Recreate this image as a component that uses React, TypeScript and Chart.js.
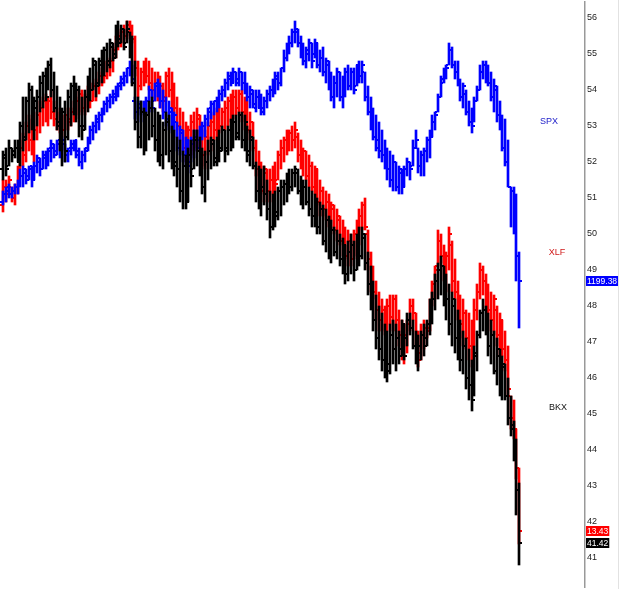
import React, { useEffect, useRef } from 'react';
import { Chart, registerables } from 'chart.js';

Chart.register(...registerables);

// ---- SPX (scaled onto the BKX axis) ----
const spxHigh = [
  51.2, 51.3, 51.4, 51.3, 51.4, 51.5, 51.8, 51.9, 51.8, 51.9,
  51.9, 52.0, 52.2, 52.1, 52.3, 52.3, 52.4, 52.6, 52.5, 52.6,
  52.6, 52.7, 52.5, 52.4, 52.6, 52.6, 52.6, 52.4, 52.3, 52.4,
  52.7, 53.0, 53.1, 53.3, 53.4, 53.5, 53.7, 53.8, 53.9, 54.0,
  54.1, 54.2, 54.4, 54.5, 54.6, 54.8, 54.7, 53.8, 53.7, 53.7,
  53.7, 53.8, 54.1, 54.0, 54.2, 54.3, 54.2, 54.0, 53.8, 53.7,
  53.5, 53.4, 53.1, 53.0, 52.9, 52.7, 52.6, 52.7, 52.9, 52.9,
  53.0, 53.1, 53.3, 53.5, 53.7, 53.7, 53.8, 54.0, 54.1, 54.3,
  54.5, 54.5, 54.6, 54.5, 54.6, 54.5, 54.5, 54.2, 54.1, 54.0,
  54.0, 54.0, 53.9, 53.8, 54.0, 54.1, 54.3, 54.5, 54.5, 54.6,
  55.1, 55.3, 55.5, 55.7, 55.9, 55.7, 55.5, 55.3, 55.2, 55.4,
  55.3, 55.4, 55.3, 55.1, 55.2, 54.9, 54.8, 54.5, 54.4, 54.6,
  54.5, 54.4, 54.6, 54.7, 54.6, 54.6, 54.7, 54.8, 54.8, 54.5,
  54.1, 53.8, 53.5, 53.3, 53.1, 52.9, 52.6, 52.4, 52.3, 52.2,
  52.0, 51.9, 51.8, 51.9, 52.1, 52.0, 52.6, 52.9, 52.4, 52.3,
  52.4, 52.7, 52.9, 53.3, 53.4, 53.9, 54.4, 54.6, 54.7, 55.3,
  55.2, 54.8, 54.8, 54.3, 54.2, 54.0, 53.7, 53.5, 53.8, 54.1,
  54.7, 54.8, 54.8, 54.7, 54.5, 54.3, 54.1, 53.7, 53.3, 53.2,
  52.6, 51.3, 51.3, 51.1, 49.5,
];
const spxLow = [
  50.8, 50.9, 51.0, 51.0, 51.1, 51.1, 51.3, 51.3, 51.4, 51.5,
  51.3, 51.5, 51.7, 51.6, 51.8, 51.8, 51.9, 52.0, 52.1, 52.2,
  52.1, 52.3, 52.0, 52.0, 52.2, 52.3, 52.1, 51.9, 51.8, 52.0,
  52.3, 52.5, 52.6, 52.8, 52.9, 53.1, 53.3, 53.4, 53.5, 53.6,
  53.7, 53.8, 54.0, 54.1, 54.2, 54.4, 54.2, 53.2, 53.1, 53.3,
  53.1, 53.3, 53.4, 53.4, 53.7, 53.8, 53.5, 53.2, 53.0, 52.9,
  52.8, 52.7, 52.3, 52.2, 52.0, 51.9, 51.7, 52.0, 52.1, 52.3,
  52.4, 52.6, 52.7, 53.0, 53.2, 53.3, 53.4, 53.5, 53.7, 53.8,
  54.0, 54.1, 54.2, 54.1, 54.1, 54.0, 53.9, 53.7, 53.5, 53.5,
  53.4, 53.5, 53.3, 53.3, 53.5, 53.7, 53.8, 53.9, 54.0, 54.1,
  54.5, 54.8, 55.0, 55.2, 55.3, 55.2, 54.9, 54.7, 54.6, 54.8,
  54.6, 54.9, 54.6, 54.5, 54.4, 54.2, 54.0, 53.7, 53.5, 53.8,
  53.7, 53.5, 53.8, 54.0, 54.0, 53.9, 54.1, 54.2, 54.2, 53.7,
  53.3, 52.9, 52.6, 52.3, 52.1, 52.0, 51.8, 51.5, 51.3, 51.2,
  51.2, 51.1, 51.1, 51.3, 51.6, 51.5, 51.9, 52.4, 51.7, 51.6,
  51.6, 52.0, 52.1, 52.7, 52.9, 53.4, 53.8, 54.2, 54.3, 54.7,
  54.6, 54.3, 54.1, 53.7, 53.5, 53.3, 53.0, 52.8, 53.1, 53.7,
  54.0, 54.3, 54.2, 54.1, 53.7, 53.4, 53.1, 52.9, 52.3, 51.9,
  51.3, 50.2, 50.0, 48.7, 47.4,
];
const spxOpen = [
  50.9, 51.1, 51.2, 51.1, 51.2, 51.3, 51.4, 51.6, 51.7, 51.6,
  51.8, 51.6, 51.9, 52.0, 51.8, 52.1, 52.0, 52.3, 52.4, 52.3,
  52.5, 52.3, 52.5, 52.2, 52.3, 52.4, 52.5, 52.3, 52.0, 52.2,
  52.4, 52.6, 52.9, 53.0, 53.1, 53.3, 53.4, 53.6, 53.7, 53.8,
  53.8, 54.0, 54.1, 54.2, 54.4, 54.6, 54.6, 53.7, 53.4, 53.6,
  53.4, 53.6, 53.7, 54.0, 53.7, 54.1, 54.0, 53.7, 53.4, 53.2,
  53.4, 52.9, 53.1, 52.4, 52.8, 52.2, 52.5, 52.0, 52.5, 52.7,
  52.6, 52.9, 53.0, 53.2, 53.4, 53.6, 53.7, 53.7, 53.9, 54.0,
  54.2, 54.3, 54.3, 54.5, 54.3, 54.5, 54.2, 54.0, 53.8, 53.9,
  53.6, 53.8, 53.5, 53.5, 53.7, 53.9, 54.0, 54.2, 54.3, 54.2,
  54.6, 54.9, 55.2, 55.3, 55.6, 55.6, 55.3, 55.1, 54.8, 55.0,
  55.3, 55.0, 55.3, 54.7, 54.9, 54.5, 54.7, 54.1, 53.8, 54.2,
  54.5, 53.8, 54.2, 54.5, 54.1, 54.5, 54.1, 54.7, 54.4, 54.5,
  53.8, 53.4, 53.0, 52.7, 52.6, 52.3, 52.2, 51.9, 51.8, 51.5,
  52.0, 51.3, 51.7, 51.3, 51.8, 52.0, 51.9, 52.4, 52.4, 51.9,
  52.2, 52.3, 52.6, 52.7, 53.1, 53.4, 53.8, 54.2, 54.5, 54.7,
  55.1, 54.7, 54.5, 54.2, 53.8, 53.9, 53.4, 53.1, 53.1, 53.7,
  54.0, 54.5, 54.7, 54.6, 54.2, 53.8, 54.0, 53.3, 53.0, 52.4,
  52.0, 51.3, 51.2, 50.9, 49.4,
];
const spxClose = [
  51.1, 51.3, 51.1, 51.2, 51.3, 51.5, 51.6, 51.8, 51.5, 51.9,
  51.5, 51.9, 52.1, 51.8, 52.2, 52.0, 52.4, 52.5, 52.2, 52.6,
  52.3, 52.6, 52.2, 52.4, 52.5, 52.6, 52.2, 52.0, 52.2, 52.3,
  52.6, 52.9, 53.0, 53.2, 53.3, 53.5, 53.6, 53.7, 53.8, 53.9,
  54.0, 54.2, 54.3, 54.4, 54.6, 54.7, 54.3, 53.4, 53.5, 53.4,
  53.6, 53.7, 54.0, 53.5, 54.2, 54.0, 53.7, 53.4, 53.1, 53.5,
  52.9, 53.3, 52.4, 52.9, 52.2, 52.6, 51.9, 52.6, 52.7, 52.4,
  52.9, 53.0, 53.2, 53.5, 53.6, 53.7, 53.7, 53.9, 54.0, 54.2,
  54.4, 54.2, 54.5, 54.2, 54.5, 54.2, 54.0, 53.8, 54.0, 53.5,
  53.8, 53.5, 53.4, 53.7, 53.9, 54.0, 54.2, 54.4, 54.2, 54.6,
  54.9, 55.2, 55.3, 55.6, 55.7, 55.3, 55.1, 54.8, 55.1, 55.3,
  54.8, 55.3, 54.7, 54.9, 54.5, 54.8, 54.1, 53.8, 54.2, 54.5,
  53.8, 54.2, 54.5, 54.1, 54.5, 54.0, 54.7, 54.4, 54.7, 53.8,
  53.4, 53.0, 52.7, 52.4, 52.3, 52.2, 51.9, 51.8, 51.5, 52.0,
  51.3, 51.8, 51.3, 51.8, 52.0, 51.8, 52.4, 52.6, 51.9, 52.2,
  52.3, 52.6, 52.7, 53.1, 53.3, 53.8, 54.3, 54.5, 54.6, 55.1,
  54.7, 54.5, 54.2, 53.8, 54.1, 53.4, 53.1, 53.0, 53.7, 54.0,
  54.5, 54.7, 54.6, 54.2, 53.8, 54.1, 53.3, 53.0, 52.4, 52.0,
  51.3, 51.2, 50.9, 49.4, 48.69,
];

// ---- XLF (scaled onto the BKX axis) ----
const xlfHigh = [
  51.5, 51.5, 51.6, 51.3, 51.4, 51.9, 52.6, 52.8, 53.1, 53.3,
  53.2, 53.0, 53.4, 53.7, 53.8, 53.9, 53.8, 54.0, 53.7, 53.5,
  53.4, 53.3, 53.3, 53.5, 53.5, 53.7, 53.8, 54.0, 54.0, 53.9,
  54.1, 54.2, 54.2, 54.3, 54.5, 54.6, 54.8, 54.8, 54.9, 55.2,
  55.5, 55.6, 55.7, 55.8, 55.9, 55.9, 55.8, 55.5, 54.8, 54.6,
  54.8, 54.9, 54.8, 54.6, 54.5, 54.5, 54.4, 54.2, 54.5, 54.6,
  54.5, 54.2, 53.8, 53.5, 53.4, 53.1, 53.0, 53.3, 53.4, 53.5,
  53.3, 53.0, 52.9, 53.1, 53.3, 53.4, 53.5, 53.6, 53.5, 53.7,
  53.8, 53.9, 54.0, 54.0, 54.0, 54.0, 53.8, 53.7, 53.4, 53.1,
  52.6, 52.3, 52.0, 51.9, 51.8, 51.8, 51.9, 52.0, 52.3, 52.6,
  52.7, 52.9, 52.9, 53.0, 53.1, 52.8, 52.6, 52.4, 52.3, 52.2,
  52.0, 51.9, 51.8, 51.5, 51.3, 51.2, 51.1, 50.9, 50.8, 50.7,
  50.5, 50.4, 50.2, 50.1, 50.0, 50.1, 50.4, 50.7, 50.9, 51.0,
  50.1, 49.5, 49.1, 48.7, 48.4, 48.2, 48.0, 48.2, 48.3, 48.3,
  48.3, 47.9, 47.6, 47.5, 47.6, 48.2, 48.2, 47.8, 47.3, 47.5,
  47.6, 47.5, 48.2, 48.7, 49.1, 50.1, 50.0, 49.7, 49.5, 50.2,
  49.8, 49.3, 48.7, 48.3, 48.2, 47.9, 47.8, 47.6, 48.2, 48.6,
  49.2, 49.1, 48.9, 48.6, 48.4, 48.3, 48.0, 47.8, 47.6, 47.3,
  46.9, 45.5, 45.4, 44.6, 43.5,
];
const xlfLow = [
  50.6, 50.9, 51.1, 50.9, 50.8, 51.1, 51.8, 51.9, 52.0, 52.3,
  52.2, 52.0, 52.6, 52.8, 53.0, 53.1, 53.0, 53.2, 53.0, 52.9,
  52.8, 52.7, 52.9, 52.9, 53.0, 53.1, 53.2, 53.3, 53.4, 53.3,
  53.5, 53.5, 53.7, 53.7, 53.9, 54.1, 54.2, 54.3, 54.4, 54.5,
  54.9, 55.1, 55.2, 55.3, 55.4, 55.5, 55.3, 54.4, 53.8, 54.0,
  54.1, 54.2, 54.0, 53.8, 53.7, 53.7, 53.5, 53.4, 53.7, 53.8,
  53.5, 53.3, 52.9, 52.6, 52.3, 52.0, 51.9, 52.2, 52.3, 52.4,
  52.3, 51.9, 51.8, 52.2, 52.3, 52.6, 52.7, 52.8, 52.9, 52.9,
  53.0, 53.1, 53.2, 53.3, 53.4, 53.1, 52.9, 52.8, 52.6, 52.3,
  51.6, 51.2, 50.9, 51.1, 50.9, 50.9, 51.1, 51.2, 51.5, 51.8,
  52.0, 52.2, 52.3, 52.3, 52.4, 52.0, 51.8, 51.6, 51.5, 51.3,
  51.2, 51.1, 50.8, 50.5, 50.5, 50.4, 50.2, 50.1, 50.0, 49.8,
  49.7, 49.4, 49.3, 49.1, 49.1, 49.3, 49.4, 49.7, 50.1, 50.1,
  49.0, 48.4, 48.2, 47.6, 47.3, 47.3, 47.2, 47.3, 47.5, 47.3,
  47.3, 46.9, 46.5, 46.4, 46.7, 47.3, 47.6, 46.9, 46.3, 46.5,
  46.8, 47.1, 47.3, 48.0, 48.2, 49.1, 49.2, 48.7, 48.4, 49.0,
  48.4, 48.2, 47.6, 47.1, 46.9, 46.8, 46.5, 46.3, 46.9, 47.6,
  48.2, 48.3, 47.9, 47.6, 47.3, 47.2, 46.9, 46.6, 46.6, 46.2,
  45.5, 44.6, 44.3, 43.2, 41.4,
];
const xlfOpen = [
  50.8, 51.3, 51.1, 51.3, 51.0, 51.3, 51.8, 52.4, 52.2, 53.0,
  52.6, 52.3, 52.9, 53.3, 53.5, 53.7, 53.4, 53.7, 53.4, 53.2,
  53.0, 53.2, 52.9, 53.3, 53.2, 53.4, 53.5, 53.7, 53.9, 53.5,
  53.8, 54.0, 53.7, 54.1, 54.2, 54.4, 54.5, 54.4, 54.7, 54.8,
  55.1, 55.3, 55.5, 55.6, 55.5, 55.8, 55.6, 55.4, 54.6, 54.1,
  54.5, 54.6, 54.4, 54.2, 54.0, 54.2, 53.8, 54.1, 53.8, 54.4,
  54.0, 53.8, 53.5, 53.0, 52.9, 52.4, 52.2, 52.9, 53.1, 52.6,
  53.2, 52.6, 52.2, 52.7, 53.0, 53.1, 52.9, 53.4, 53.0, 53.4,
  53.5, 53.7, 53.4, 53.8, 53.5, 53.9, 53.4, 53.1, 52.9, 53.1,
  52.4, 51.8, 51.5, 51.2, 51.7, 51.2, 51.5, 51.8, 51.5, 52.2,
  52.4, 52.6, 52.4, 52.8, 52.6, 52.7, 52.2, 52.0, 52.3, 51.6,
  51.9, 51.3, 51.7, 50.9, 51.2, 50.7, 50.9, 50.4, 50.7, 50.1,
  50.4, 49.8, 50.1, 49.4, 49.8, 49.3, 50.0, 50.2, 50.5, 50.8,
  50.0, 49.3, 48.7, 48.4, 47.9, 47.6, 47.9, 47.5, 48.0, 47.7,
  48.2, 47.6, 47.2, 46.9, 47.2, 47.5, 48.0, 47.8, 47.1, 46.7,
  47.2, 47.4, 47.4, 48.0, 48.6, 49.1, 49.8, 49.4, 49.0, 49.4,
  49.7, 48.7, 48.4, 47.9, 47.5, 47.8, 47.1, 46.9, 47.1, 47.9,
  48.4, 49.0, 48.7, 48.2, 47.9, 47.6, 47.9, 47.2, 47.5, 46.8,
  46.5, 45.5, 44.9, 44.5, 43.5,
];
const xlfClose = [
  51.3, 51.1, 51.5, 51.0, 51.3, 51.8, 52.4, 52.2, 53.0, 52.6,
  52.3, 52.9, 53.3, 53.5, 53.7, 53.4, 53.7, 53.4, 53.2, 53.0,
  53.3, 52.9, 53.3, 53.1, 53.4, 53.5, 53.7, 53.9, 53.5, 53.8,
  54.0, 53.7, 54.1, 54.2, 54.4, 54.5, 54.4, 54.7, 54.8, 55.1,
  55.3, 55.5, 55.6, 55.5, 55.8, 55.6, 55.4, 54.6, 54.1, 54.5,
  54.6, 54.4, 54.2, 54.0, 54.2, 53.8, 54.1, 53.7, 54.4, 54.0,
  53.8, 53.5, 53.0, 52.9, 52.4, 52.2, 52.9, 53.1, 52.6, 53.3,
  52.6, 52.2, 52.7, 53.0, 53.1, 52.9, 53.4, 53.0, 53.4, 53.5,
  53.7, 53.4, 53.8, 53.5, 53.9, 53.4, 53.1, 52.9, 53.1, 52.4,
  51.8, 51.5, 51.2, 51.8, 51.2, 51.5, 51.8, 51.4, 52.2, 52.4,
  52.6, 52.4, 52.8, 52.6, 52.9, 52.2, 52.0, 52.3, 51.6, 51.9,
  51.3, 51.8, 50.9, 51.2, 50.7, 50.9, 50.4, 50.8, 50.1, 50.5,
  49.8, 50.1, 49.4, 49.8, 49.3, 50.0, 50.2, 50.5, 50.8, 50.2,
  49.3, 48.7, 48.4, 47.9, 47.6, 47.9, 47.5, 48.0, 47.7, 48.2,
  47.6, 47.2, 46.9, 47.2, 47.5, 48.0, 47.8, 47.1, 46.5, 47.2,
  47.4, 47.3, 48.0, 48.6, 49.0, 49.8, 49.4, 49.0, 49.4, 50.0,
  48.7, 48.4, 47.9, 47.5, 47.8, 47.1, 46.9, 46.7, 47.9, 48.4,
  49.0, 48.7, 48.2, 47.9, 47.6, 48.2, 47.2, 47.6, 46.8, 46.5,
  45.7, 44.9, 44.6, 43.5, 41.75,
];

// ---- BKX (own axis) ----
const bkxHigh = [
  52.3, 52.4, 52.6, 52.4, 52.6, 52.6, 53.1, 53.8, 53.8, 54.2,
  54.1, 53.8, 54.0, 54.4, 54.5, 54.6, 54.8, 54.9, 54.5, 54.1,
  53.8, 53.5, 53.7, 54.0, 54.2, 54.4, 54.2, 54.1, 53.8, 54.0,
  54.4, 54.6, 54.9, 54.8, 54.9, 55.1, 55.2, 55.3, 55.4, 55.3,
  55.8, 55.9, 55.8, 55.7, 55.9, 55.6, 55.5, 54.8, 53.8, 53.7,
  53.5, 53.4, 53.7, 53.8, 53.5, 53.4, 53.3, 53.1, 53.4, 53.3,
  53.0, 52.9, 52.7, 52.6, 52.3, 52.2, 52.4, 52.6, 52.9, 52.9,
  52.7, 52.4, 52.3, 52.6, 52.7, 52.6, 52.7, 52.9, 53.0, 52.9,
  53.0, 53.2, 53.3, 53.3, 53.4, 53.4, 53.3, 53.0, 52.9, 52.7,
  52.0, 51.9, 51.8, 51.9, 51.5, 51.2, 51.1, 51.2, 51.3, 51.5,
  51.5, 51.7, 51.8, 51.8, 51.9, 51.8, 51.6, 51.5, 51.5, 51.3,
  51.2, 51.1, 51.0, 50.9, 50.8, 50.7, 50.5, 50.4, 50.2, 50.1,
  50.0, 49.9, 49.7, 49.8, 50.0, 49.8, 50.0, 50.2, 50.2, 50.0,
  49.5, 49.1, 48.7, 48.3, 48.0, 47.8, 47.5, 47.3, 47.5, 47.6,
  47.5, 47.3, 47.6, 47.5, 47.8, 47.8, 47.6, 47.3, 47.2, 47.3,
  47.5, 47.6, 48.2, 48.4, 48.9, 49.2, 49.4, 49.1, 48.9, 48.6,
  48.4, 48.2, 47.9, 47.6, 47.3, 47.1, 46.8, 46.5, 46.9, 47.3,
  47.9, 48.2, 48.0, 47.8, 47.6, 47.3, 47.1, 46.8, 46.6, 46.4,
  46.0, 45.5, 44.8, 44.3, 43.1,
];
const bkxLow = [
  51.5, 51.6, 51.9, 52.0, 52.1, 52.0, 51.9, 52.3, 52.6, 52.8,
  52.9, 52.6, 53.0, 53.4, 53.5, 53.7, 54.0, 53.8, 53.4, 52.9,
  52.3, 51.9, 52.0, 52.6, 53.0, 53.3, 53.1, 52.7, 52.6, 52.9,
  53.4, 53.7, 54.0, 53.8, 54.1, 54.2, 54.4, 54.5, 54.6, 54.8,
  54.9, 55.2, 55.3, 55.1, 55.3, 54.9, 54.1, 52.9, 52.4, 52.4,
  52.2, 52.3, 52.6, 52.7, 52.3, 52.0, 51.9, 51.8, 52.2, 52.0,
  51.8, 51.6, 51.3, 50.9, 50.7, 50.7, 50.9, 51.3, 51.8, 51.9,
  51.6, 51.1, 50.9, 51.5, 51.8, 51.9, 51.9, 52.0, 52.3, 52.0,
  52.2, 52.3, 52.4, 52.6, 52.6, 52.4, 52.3, 52.0, 51.9, 51.8,
  50.9, 50.7, 50.5, 50.8, 50.4, 49.9, 50.1, 50.2, 50.4, 50.5,
  50.8, 50.9, 51.1, 51.2, 51.3, 51.1, 50.8, 50.7, 50.8, 50.5,
  50.2, 50.2, 50.0, 50.0, 49.7, 49.5, 49.3, 49.2, 49.4, 49.3,
  49.1, 48.9, 48.6, 48.7, 48.9, 48.7, 49.0, 49.1, 49.3, 49.0,
  48.3, 47.9, 47.3, 46.8, 46.5, 46.2, 46.0, 45.9, 46.1, 46.4,
  46.2, 46.4, 46.6, 46.5, 46.9, 47.2, 46.8, 46.4, 46.2, 46.5,
  46.6, 46.9, 47.2, 47.5, 47.9, 48.2, 48.3, 48.0, 47.6, 47.2,
  46.9, 46.7, 46.5, 46.2, 46.1, 45.7, 45.4, 45.1, 45.5, 46.2,
  47.1, 47.3, 47.2, 46.6, 46.4, 46.1, 45.8, 45.5, 45.4, 45.4,
  44.7, 44.4, 43.7, 42.2, 40.8,
];
const bkxOpen = [
  51.8, 52.1, 51.9, 52.4, 52.3, 52.4, 52.0, 53.0, 52.7, 53.7,
  54.0, 53.1, 53.5, 53.8, 54.2, 54.4, 54.0, 54.7, 54.0, 53.5,
  53.1, 52.4, 53.4, 52.7, 53.8, 54.1, 53.5, 54.0, 53.0, 53.0,
  53.8, 54.2, 54.0, 54.7, 54.2, 54.7, 54.5, 55.1, 54.8, 55.2,
  55.0, 55.6, 55.4, 55.7, 55.3, 55.6, 55.1, 54.2, 53.1, 52.7,
  53.4, 52.6, 53.3, 53.5, 53.0, 52.6, 53.1, 52.2, 52.9, 53.1,
  52.3, 52.7, 52.0, 51.8, 51.2, 51.9, 51.1, 52.2, 51.8, 52.6,
  52.3, 51.9, 51.3, 52.0, 52.3, 52.5, 52.1, 52.6, 52.4, 52.9,
  52.4, 52.9, 53.0, 53.1, 52.8, 53.3, 52.6, 53.0, 52.3, 52.6,
  51.9, 51.2, 50.9, 51.3, 51.1, 50.7, 50.2, 50.9, 50.6, 51.2,
  51.3, 51.4, 51.6, 51.3, 51.7, 51.8, 51.2, 50.9, 51.3, 50.9,
  50.7, 50.5, 50.9, 50.2, 50.7, 49.8, 50.4, 49.5, 50.1, 49.5,
  49.8, 49.3, 49.7, 48.9, 49.5, 49.7, 49.0, 49.9, 49.4, 49.9,
  49.2, 48.6, 48.2, 47.6, 47.1, 46.8, 46.5, 47.1, 46.4, 47.2,
  46.8, 47.1, 46.8, 47.4, 47.1, 47.6, 47.4, 46.9, 46.6, 46.9,
  47.2, 47.1, 47.5, 48.0, 48.2, 48.7, 49.0, 49.1, 48.3, 48.2,
  47.5, 48.0, 47.1, 47.3, 46.5, 46.9, 46.0, 45.8, 45.5, 46.7,
  47.2, 47.8, 47.9, 47.5, 46.9, 47.2, 46.2, 46.6, 45.8, 46.3,
  45.5, 44.9, 44.6, 44.2, 42.9,
];
const bkxClose = [
  52.2, 51.8, 52.4, 52.2, 52.4, 52.2, 53.0, 52.6, 53.7, 54.0,
  53.1, 53.7, 53.8, 54.2, 54.4, 53.8, 54.7, 54.0, 53.5, 53.0,
  52.4, 53.4, 52.3, 53.8, 54.1, 53.5, 54.0, 53.0, 52.9, 53.8,
  54.2, 54.0, 54.8, 54.1, 54.8, 54.5, 55.1, 54.7, 55.3, 54.9,
  55.6, 55.3, 55.7, 55.2, 55.7, 55.1, 54.2, 53.1, 52.7, 53.4,
  52.4, 53.3, 53.5, 53.0, 52.6, 53.1, 52.2, 52.9, 53.1, 52.3,
  52.7, 51.9, 51.8, 51.2, 51.9, 50.9, 52.2, 51.6, 52.6, 52.3,
  51.9, 51.3, 52.0, 52.3, 52.6, 52.0, 52.6, 52.3, 52.9, 52.3,
  52.9, 53.0, 53.1, 52.7, 53.3, 52.6, 53.1, 52.2, 52.7, 51.9,
  51.2, 50.9, 51.3, 51.1, 50.7, 50.2, 50.9, 50.5, 51.2, 51.3,
  51.4, 51.6, 51.3, 51.7, 51.7, 51.2, 50.9, 51.3, 50.9, 50.7,
  50.5, 50.9, 50.2, 50.7, 49.8, 50.4, 49.5, 50.1, 49.5, 49.8,
  49.3, 49.7, 48.9, 49.5, 49.7, 49.0, 49.9, 49.4, 50.0, 49.2,
  48.6, 48.2, 47.6, 47.1, 46.8, 46.5, 47.1, 46.2, 47.2, 46.8,
  47.1, 46.6, 47.5, 46.6, 47.6, 47.4, 46.9, 46.5, 46.9, 47.2,
  46.9, 47.5, 48.0, 48.2, 48.7, 49.0, 49.1, 48.3, 48.2, 47.5,
  48.2, 47.1, 47.3, 46.5, 46.9, 46.0, 45.8, 45.4, 46.6, 47.2,
  47.8, 47.9, 47.5, 46.9, 47.2, 46.2, 46.8, 45.8, 46.4, 45.5,
  44.9, 44.7, 44.2, 42.9, 41.42,
];

// last quotes shown in the axis tags (real prices)
const quoteText = ['1199.38', '13.43', '41.42'];
const seriesNames = ['SPX', 'XLF', 'BKX'];

const AXIS_MIN = 40.2;
const AXIS_MAX = 56.441;
const SLOT_MIN = -0.533;
const SLOT_MAX = 207.467;

const BLUE = '#0000ff';
const RED = '#ff0000';
const BLACK = '#000000';

function makeTick(color: string, side: 'left' | 'right') {
  const c = document.createElement('canvas');
  c.width = 6;
  c.height = 2;
  const g = c.getContext('2d')!;
  g.fillStyle = color;
  if (side === 'left') g.fillRect(0, 0, 2, 2);
  else g.fillRect(4, 0, 2, 2);
  return c;
}

function ohlc(name: string, color: string, H: number[], L: number[], O: number[], C: number[], order: number) {
  const lt = makeTick(color, 'left');
  const rt = makeTick(color, 'right');
  return [
    {
      type: 'bar' as const,
      label: name,
      data: H.map((h, i) => ({ x: i, y: [L[i], h] })),
      backgroundColor: color,
      borderWidth: 0,
      borderSkipped: false,
      barThickness: 2,
      grouped: false,
      order,
      clip: false as any,
    },
    {
      type: 'line' as const,
      label: name + ' open',
      data: O.map((v, i) => ({ x: i, y: v })),
      showLine: false,
      pointStyle: lt,
      pointRadius: 1,
      pointHoverRadius: 1,
      order,
      clip: false as any,
    },
    {
      type: 'line' as const,
      label: name + ' close',
      data: C.map((v, i) => ({ x: i, y: v })),
      showLine: false,
      pointStyle: rt,
      pointRadius: 1,
      pointHoverRadius: 1,
      order,
      clip: false as any,
    },
  ];
}

const FONT = '"Liberation Sans", Arial, sans-serif';

export default function App() {
  const ref = useRef<HTMLCanvasElement>(null);
  useEffect(() => {
    if (!ref.current) return;
    const lastCloses = [spxClose[spxClose.length - 1], xlfClose[xlfClose.length - 1], bkxClose[bkxClose.length - 1]];
    const tagColors = [BLUE, RED, BLACK];
    const labelColors = ['#1a1ac8', '#d01818', '#111111'];
    // anchor of each series name, in (slot, value) units
    const labelAnchors: [number, number][] = [
      [194.7, 53.1],
      [197.5, 49.46],
      [197.9, 45.16],
    ];
    const annotate = {
      id: 'annotate',
      afterDraw(chart: any) {
        const { ctx, chartArea } = chart;
        const xs = chart.scales.x;
        const ys = chart.scales.y;
        ctx.save();
        ctx.font = '9px ' + FONT;
        ctx.textAlign = 'center';
        ctx.textBaseline = 'middle';
        seriesNames.forEach((n, k) => {
          ctx.fillStyle = labelColors[k];
          ctx.fillText(n, xs.getPixelForValue(labelAnchors[k][0]), ys.getPixelForValue(labelAnchors[k][1]));
        });
        ctx.font = '8.5px ' + FONT;
        ctx.textAlign = 'left';
        quoteText.forEach((t, k) => {
          const py = ys.getPixelForValue(lastCloses[k]);
          const w = ctx.measureText(t).width + 2;
          ctx.fillStyle = tagColors[k];
          ctx.fillRect(chartArea.right + 1, Math.round(py) - 5, w, 10);
          ctx.fillStyle = '#ffffff';
          ctx.fillText(t, chartArea.right + 2, Math.round(py) + 0.5);
        });
        ctx.restore();
      },
    };
    const chart = new Chart(ref.current, {
      type: 'bar',
      data: {
        datasets: [
          ...ohlc('BKX', BLACK, bkxHigh, bkxLow, bkxOpen, bkxClose, 1),
          ...ohlc('SPX', BLUE, spxHigh, spxLow, spxOpen, spxClose, 2),
          ...ohlc('XLF', RED, xlfHigh, xlfLow, xlfOpen, xlfClose, 3),
        ] as any,
      },
      options: {
        animation: false,
        responsive: false,
        events: [],
        layout: { padding: 0 },
        plugins: { legend: { display: false }, tooltip: { enabled: false } },
        scales: {
          x: {
            type: 'linear',
            min: SLOT_MIN,
            max: SLOT_MAX,
            offset: false,
            alignToPixels: true,
            display: false,
          },
          y: {
            type: 'linear',
            position: 'right',
            min: AXIS_MIN,
            max: AXIS_MAX,
            beginAtZero: false,
            alignToPixels: true,
            grid: { display: false, drawTicks: false },
            border: { display: true, color: '#999999', width: 1.5 },
            ticks: {
              stepSize: 1,
              includeBounds: false,
              padding: 2,
              color: '#222222',
              font: { size: 9, family: FONT },
            },
            afterFit(s: any) {
              s.width = 35;
              s.paddingTop = 0;
              s.paddingBottom = 0;
            },
          },
        },
      } as any,
      plugins: [annotate],
    });
    return () => chart.destroy();
  }, []);
  return (
    <div style={{ position: 'fixed', left: 0, top: 0, width: 620, height: 589, background: '#ffffff' }}>
      <canvas ref={ref} width={620} height={589} style={{ display: 'block' }} />
      <div style={{ position: 'absolute', left: 618, top: 0, width: 1, height: 589, background: '#e2e2e2' }} />
    </div>
  );
}
